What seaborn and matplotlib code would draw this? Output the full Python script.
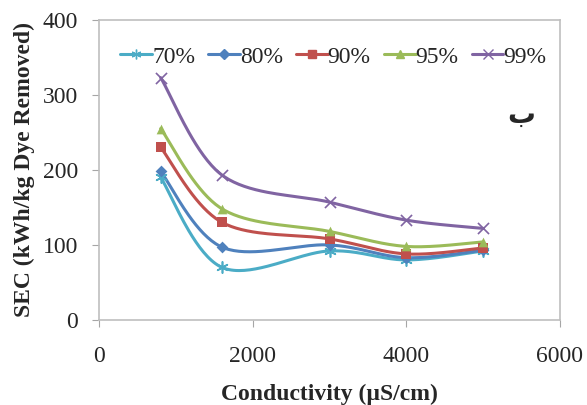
import numpy as np
import pandas as pd
import matplotlib
matplotlib.use("Agg")
import matplotlib.pyplot as plt
import seaborn as sns

conductivity = [800, 1600, 3000, 4000, 5000]
sec_70 = [190, 70, 92, 80, 92]
sec_80 = [198, 97, 100, 83, 93]
sec_90 = [230, 130, 108, 88, 96]
sec_95 = [255, 148, 118, 98, 104]
sec_99 = [323, 193, 157, 133, 122]
labels = ["70%", "80%", "90%", "95%", "99%"]

series = [sec_70, sec_80, sec_90, sec_95, sec_99]
colors = ["#4BACC6", "#4F81BD", "#C0504D", "#9BBB59", "#8064A2"]
markers = [(6, 2, 0), "D", "s", "^", "x"]
msizes = [8, 6, 7, 7, 8]

rows = []
for lab, vals in zip(labels, series):
    for x, y in zip(conductivity, vals):
        rows.append({"Conductivity": x, "SEC": y, "Series": lab})
df = pd.DataFrame(rows)

sns.set_style("white")
plt.rcParams['font.family'] = ['Liberation Serif', 'DejaVu Serif']

fig = plt.figure(figsize=(5.87, 4.05), dpi=100)
ax = fig.add_axes([0.169, 0.21, 0.785, 0.741])


def smooth(xs, ys, n=40):
    # Excel-style smoothed line (Catmull-Rom Bezier) for drawing between data points
    xs = np.asarray(xs, float); ys = np.asarray(ys, float)
    px = np.concatenate([[xs[0]], xs, [xs[-1]]])
    py = np.concatenate([[ys[0]], ys, [ys[-1]]])
    ox, oy = [], []
    t = np.linspace(0, 1, n)
    for i in range(1, len(px) - 2):
        p0 = np.array([px[i], py[i]]); p3 = np.array([px[i + 1], py[i + 1]])
        c1 = p0 + (np.array([px[i + 1], py[i + 1]]) - np.array([px[i - 1], py[i - 1]])) / 6
        c2 = p3 - (np.array([px[i + 2], py[i + 2]]) - np.array([px[i], py[i]])) / 6
        b = ((1 - t) ** 3)[:, None] * p0 + (3 * (1 - t) ** 2 * t)[:, None] * c1 \
            + (3 * (1 - t) * t ** 2)[:, None] * c2 + (t ** 3)[:, None] * p3
        ox.extend(b[:, 0]); oy.extend(b[:, 1])
    return np.array(ox), np.array(oy)


handles = []
for lab, col, mk, ms in zip(labels, colors, markers, msizes):
    sub = df[df["Series"] == lab]
    sx, sy = smooth(sub["Conductivity"], sub["SEC"])
    ax.plot(sx, sy, color=col, lw=2.2, zorder=2)
    sns.scatterplot(x=sub["Conductivity"], y=sub["SEC"], ax=ax, color=col, marker=mk,
                    s=ms ** 2, linewidth=1.2 if mk in ("x", (6, 2, 0)) else 0,
                    edgecolor=col, zorder=3, legend=False)
    h, = ax.plot([], [], color=col, lw=2.2, marker=mk, ms=ms - 1, mec=col, mfc=col, label=lab)
    handles.append(h)

ax.set_xlim(0, 6000)
ax.set_ylim(0, 400)
ax.set_xticks([0, 2000, 4000, 6000])
ax.set_yticks([0, 100, 200, 300, 400])
ax.tick_params(axis="both", labelsize=17, length=5, color="#A6A6A6", direction="out",
               bottom=True, left=True)
ax.tick_params(axis="x", pad=14)
ax.tick_params(axis="y", pad=10)
for s in ax.spines.values():
    s.set_color("#BFBFBF")
    s.set_linewidth(1.2)

ax.set_xlabel("Conductivity (µS/cm)", fontsize=17, fontweight="bold", labelpad=12)
ax.set_ylabel("SEC (kWh/kg Dye Removed)", fontsize=17, fontweight="bold", labelpad=6)

leg = ax.legend(handles=handles, loc="center", bbox_to_anchor=(0.508, 0.877), ncol=5,
                frameon=False, fontsize=17, handlelength=1.35, handletextpad=0.0,
                columnspacing=0.55, borderaxespad=0, borderpad=0)

ax.text(0.915, 0.683, "\ufe8f", transform=ax.transAxes, fontsize=20, fontweight="bold",
        family=["DejaVu Sans"], ha="center", va="center")

fig.savefig("out.png", dpi=100)
